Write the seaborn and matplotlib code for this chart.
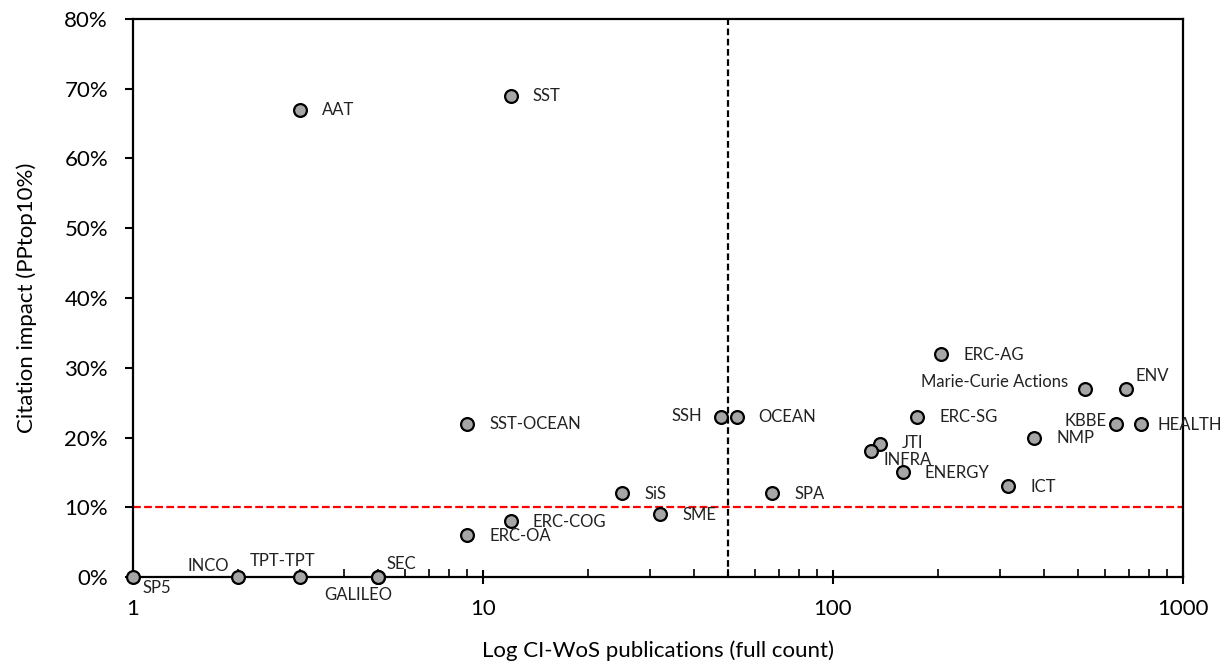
import matplotlib
matplotlib.use("Agg")
import matplotlib.pyplot as plt
import matplotlib.ticker as mticker
import numpy as np
import pandas as pd
import seaborn as sns

# 数据：项目名称、出版物数量、PPtop10%
programmes = ['SP5', 'INCO', 'TPT-TPT', 'GALILEO', 'SEC', 'AAT', 'SST', 'SST-OCEAN',
              'ERC-OA', 'ERC-COG', 'SiS', 'SME', 'SSH', 'OCEAN', 'SPA', 'ERC-AG',
              'Marie-Curie Actions', 'ENV', 'ERC-SG', 'KBBE', 'HEALTH', 'NMP', 'JTI',
              'INFRA', 'ENERGY', 'ICT']
publications = [1, 2, 3, 5, 5, 3, 12, 9, 9, 12, 25, 32, 48, 53, 67, 204,
                525, 687, 174, 644, 759, 375, 136, 128, 158, 316]
pptop10 = [0.00, 0.00, 0.00, 0.00, 0.00, 0.67, 0.69, 0.22, 0.06, 0.08, 0.12, 0.09,
           0.23, 0.23, 0.12, 0.32, 0.27, 0.27, 0.23, 0.22, 0.22, 0.20, 0.19,
           0.18, 0.15, 0.13]

ref_pptop10 = 0.10
ref_publications = 50

df = pd.DataFrame({'programme': programmes, 'pubs': publications, 'pp': pptop10})

# 标签偏移（points）
offsets = {
    'SP5': (7, -8, 'left'), 'INCO': (-7, 8, 'right'), 'TPT-TPT': (-12.5, 11.5, 'center'),
    'GALILEO': (-14, -13, 'center'), 'SEC': (6.5, 9.5, 'left'),
    'SSH': (-14, 0.5, 'right'), 'Marie-Curie Actions': (-12, 5, 'right'),
    'KBBE': (-7, 2, 'right'), 'ENV': (7, 9, 'left'), 'INFRA': (9.5, -6, 'left'),
    'HEALTH': (12, -1, 'left'), 'JTI': (16, 1, 'left'),
}

plt.rcParams['font.family'] = ['Lato', 'DejaVu Sans']

fig = plt.figure(figsize=(12.24, 6.66), dpi=100)
ax = fig.add_axes([0.1087, 0.1336, 0.8578, 0.8379])

ax.axhline(ref_pptop10, color='#FF0000', linestyle=(0, (3.5, 1.5)), linewidth=1.6, zorder=1)
ax.axvline(ref_publications, color='black', linestyle=(0, (3, 1.6)), linewidth=1.6, zorder=1)

sns.scatterplot(data=df, x='pubs', y='pp', ax=ax, s=85, color='#A6A6A6',
                edgecolor='black', linewidth=1.6, zorder=3, clip_on=False, legend=False)

for name, x, y in zip(programmes, publications, pptop10):
    dx, dy, ha = offsets.get(name, (16, -0.5, 'left'))
    ax.annotate(name, (x, y), xytext=(dx, dy), textcoords='offset points',
                ha=ha, va='center', fontsize=12, color='#222222')

ax.set_xscale('log')
ax.set_xlim(1, 1000)
ax.set_ylim(0, 0.8)
ax.yaxis.set_major_locator(mticker.MultipleLocator(0.1))
ax.yaxis.set_major_formatter(mticker.PercentFormatter(1.0, decimals=0))
ax.xaxis.set_major_formatter(mticker.FuncFormatter(lambda v, p: f'{v:g}'))
ax.xaxis.set_minor_formatter(mticker.NullFormatter())

for side in ['left', 'right', 'top', 'bottom']:
    ax.spines[side].set_linewidth(1.6)
    ax.spines[side].set_color('black')

ax.tick_params(axis='x', which='major', direction='inout', length=10, width=1.5,
               labelsize=16, pad=11, colors='black')
ax.tick_params(axis='x', which='minor', direction='in', length=5.5, width=1.2)
ax.tick_params(axis='y', which='major', direction='out', length=6, width=1.5,
               labelsize=16, pad=12, colors='black')

ax.set_xlabel('Log CI-WoS publications (full count)', fontsize=16, labelpad=15)
ax.set_ylabel('Citation impact (PPtop10%)', fontsize=16, labelpad=20)

fig.savefig('out.png', dpi=100)
